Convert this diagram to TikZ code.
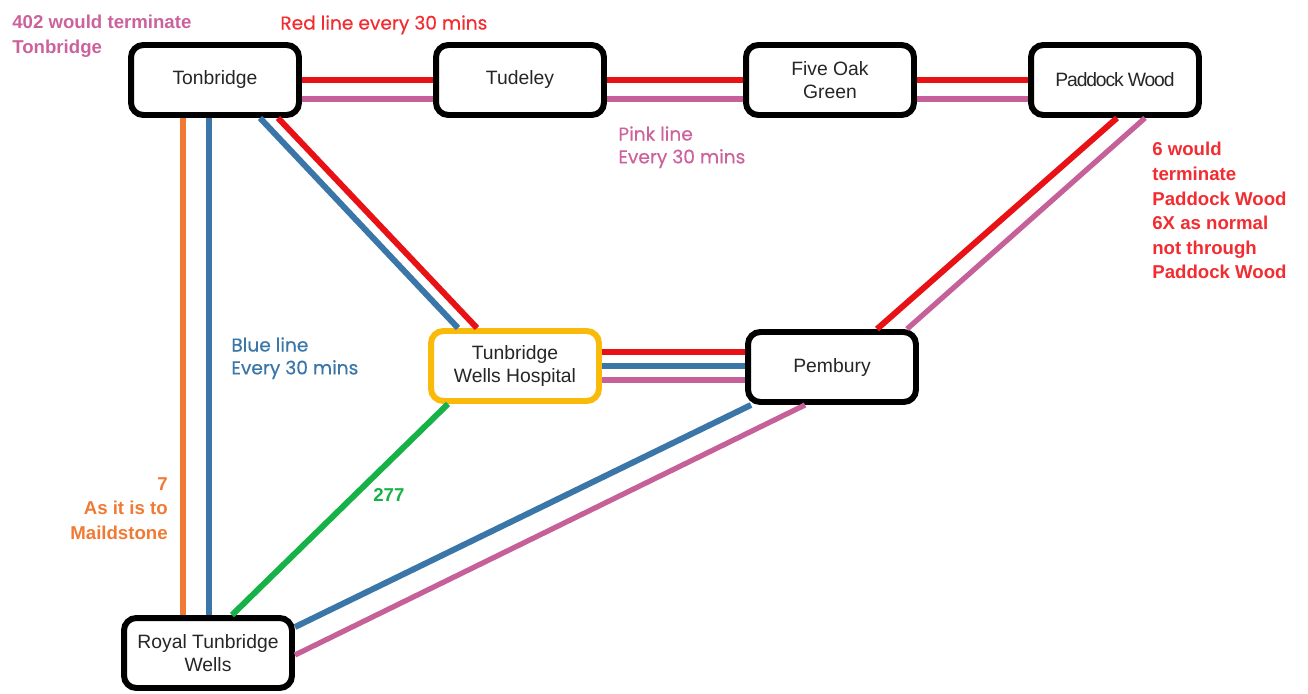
\documentclass[tikz,border=0pt]{standalone}
\usepackage{fontspec}
\setmainfont{Liberation Sans}
\newfontfamily\popfont[FakeBold=0.4]{Poppins}
\usetikzlibrary{calc}
\definecolor{busred}{RGB}{232,18,22}
\definecolor{buspink}{RGB}{198,96,152}
\definecolor{busblue}{RGB}{58,118,168}
\definecolor{busgreen}{RGB}{22,178,72}
\definecolor{busorange}{RGB}{240,122,52}
\definecolor{hospamber}{RGB}{250,186,10}
\definecolor{notered}{RGB}{242,44,48}
\definecolor{notepink}{RGB}{204,98,156}
\begin{document}
\begin{tikzpicture}[x=0.02cm, y=-0.02cm,
    stopbox/.style={draw=black, line width=3.4pt, rounded corners=7pt, fill=white,
        minimum width=3.36cm, minimum height=1.4cm, align=center,
        font=\fontsize{11}{13.5}\selectfont, text=black!85},
    redline/.style={busred, line width=3.4pt},
    pinkline/.style={buspink, line width=3pt},
    blueline/.style={busblue, line width=3.4pt},
    greenline/.style={busgreen, line width=3.4pt},
    orangeline/.style={busorange, line width=3pt},
    note/.style={anchor=north west, inner sep=0pt, align=left,
        font=\bfseries\fontsize{10.6}{14}\selectfont},
    popnote/.style={anchor=north west, inner sep=0pt, align=left,
        font=\popfont\fontsize{10.6}{13}\selectfont}]
    \useasboundingbox (0,0) rectangle (1308,693);

    \node [stopbox] (ton) at (215,80) {Tonbridge};
    \node [stopbox] (tud) at (520,80) {Tudeley};
    \node [stopbox] (five) at (830,80) {Five Oak\\Green};
    \node [stopbox] (pad) at (1115,80) {\addfontfeature{LetterSpace=-6}Paddock Wood};
    \node [stopbox, draw=hospamber] (hosp) at (515,366) {Tunbridge\\Wells Hospital};
    \node [stopbox] (pem) at (832,367) {Pembury};
    \node [stopbox] (rtw) at (208,653) {Royal Tunbridge\\Wells};

    \draw [redline] (ton.east) -- (tud.west);
    \draw [redline] (tud.east) -- (five.west);
    \draw [redline] (five.east) -- (pad.west);
    \draw [pinkline] ($(ton.east)+(0,19)$) -- ($(tud.west)+(0,19)$);
    \draw [pinkline] ($(tud.east)+(0,19)$) -- ($(five.west)+(0,19)$);
    \draw [pinkline] ($(five.east)+(0,19)$) -- ($(pad.west)+(0,19)$);

    \draw [blueline] ($(ton.south)+(45,0)$) -- ($(hosp.north)+(-57,0)$);
    \draw [redline] ($(ton.south)+(63,0)$) -- ($(hosp.north)+(-38,0)$);

    \draw [redline] ($(pad.south)+(2,0)$) -- ($(pem.north)+(45,0)$);
    \draw [pinkline] ($(pad.south)+(30,0)$) -- ($(pem.north)+(75,0)$);

    \draw [redline] ($(hosp.east)+(0,-14)$) -- ($(pem.west)+(0,-15)$);
    \draw [blueline] ($(hosp.east)+(0,0)$) -- ($(pem.west)+(0,-1)$);
    \draw [pinkline] ($(hosp.east)+(0,14)$) -- ($(pem.west)+(0,13)$);

    \coordinate (otop) at ($(ton.south)+(-32,0)$);
    \coordinate (btop) at ($(ton.south)+(-6,0)$);
    \draw [orangeline] (otop) -- (otop |- rtw.north);
    \draw [blueline] (btop) -- (btop |- rtw.north);

    \draw [greenline] ($(hosp.south)+(-67,0)$) -- ($(rtw.north)+(24,0)$);
    \draw [blueline] ($(rtw.east)+(0,-26)$) -- ($(pem.south)+(-81,0)$);
    \draw [pinkline] ($(rtw.east)+(0,2)$) -- ($(pem.south)+(-27,0)$);

    \node [note, text=notepink] (n402) at (12,15) {402 would terminate\\Tonbridge};
    \node [popnote, text=notered] (nred) at (280,15) {Red line every 30 mins};
    \node [popnote, text=notepink] (npink) at (618,126) {Pink line\\Every 30 mins};
    \node [popnote, text=busblue] (nblue) at (231,337) {Blue line\\Every 30 mins};
    \node [note, text=notered] (nsix) at (1152,142) {6 would\\terminate\\Paddock Wood\\6X as normal\\not through\\Paddock Wood};
    \node [note, text=busorange, anchor=north east, align=right] (nseven) at (168,477) {7\\As it is to\\Maildstone};
    \node [note, text=busgreen] (n277) at (373,488) {277};
\end{tikzpicture}
\end{document}
